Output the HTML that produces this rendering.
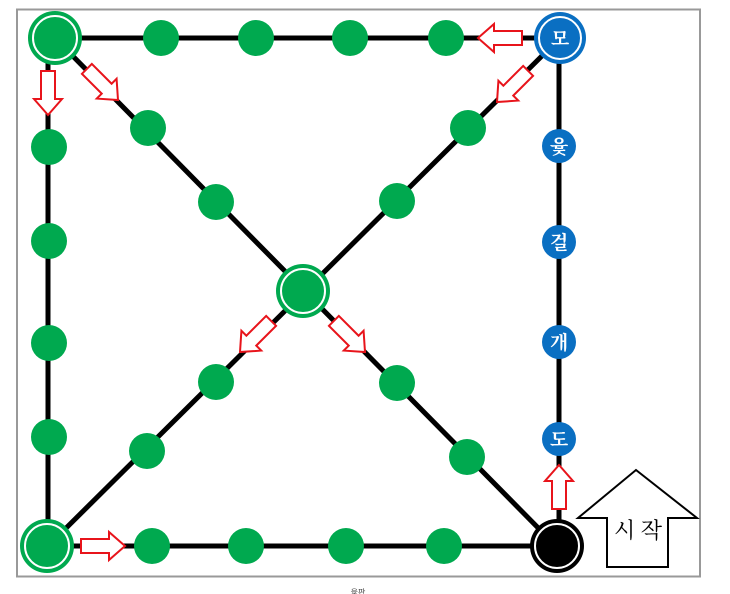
<!DOCTYPE html>
<html><head><meta charset="utf-8"><style>
html,body{margin:0;padding:0;background:#fff;width:730px;height:594px;overflow:hidden}
svg{display:block}
</style></head><body>
<svg width="730" height="594" viewBox="0 0 730 594" xmlns="http://www.w3.org/2000/svg">
<defs>
<path id="ar" d="M-16,-7 L-44,-7 L-44,7 L-16,7 L-16,14 L0,0 L-16,-14 Z" fill="#fff" stroke="#e8141b" stroke-width="2"/>
</defs>
<rect x="17" y="9.5" width="683" height="567" fill="#fff" stroke="#999" stroke-width="2"/>
<g stroke="#000" stroke-width="5">
<line x1="55" y1="38" x2="560" y2="38"/>
<line x1="48" y1="38" x2="48" y2="546"/>
<line x1="559" y1="38" x2="559" y2="546"/>
<line x1="48" y1="546" x2="556" y2="546"/>
<line x1="55" y1="38" x2="556" y2="546"/>
<line x1="560" y1="38" x2="48" y2="546"/>
</g>
<g fill="#00a94f">
<circle cx="161" cy="38" r="18"/><circle cx="256" cy="38" r="18"/><circle cx="350" cy="38" r="18"/><circle cx="446" cy="38" r="18"/>
<circle cx="49" cy="147" r="18"/><circle cx="49" cy="241" r="18"/><circle cx="49" cy="343" r="18"/><circle cx="49" cy="437" r="18"/>
<circle cx="152" cy="546" r="18"/><circle cx="246" cy="546" r="18"/><circle cx="346" cy="546" r="18"/><circle cx="444" cy="546" r="18"/>
<circle cx="148" cy="128" r="18"/><circle cx="216" cy="202" r="18"/>
<circle cx="468" cy="128" r="18"/><circle cx="397" cy="201" r="18"/>
<circle cx="216" cy="382" r="18"/><circle cx="147" cy="451" r="18"/>
<circle cx="397" cy="383" r="18"/><circle cx="467" cy="457" r="18"/>
</g>
<g>
<circle cx="55" cy="38" r="27" fill="#00a94f"/><circle cx="55" cy="38" r="22" fill="none" stroke="#fff" stroke-width="2"/>
<circle cx="47" cy="546" r="27" fill="#00a94f"/><circle cx="47" cy="546" r="22" fill="none" stroke="#fff" stroke-width="2"/>
<circle cx="303" cy="291" r="27" fill="#00a94f"/><circle cx="303" cy="291" r="22" fill="none" stroke="#fff" stroke-width="2"/>
<circle cx="557" cy="546" r="27" fill="#000"/><circle cx="557" cy="546" r="22" fill="none" stroke="#fff" stroke-width="2"/>
<circle cx="560" cy="38" r="26" fill="#0a6fc2"/><circle cx="560" cy="38" r="21" fill="none" stroke="#fff" stroke-width="2"/>
</g>
<g fill="#0a6fc2">
<circle cx="559" cy="146" r="17"/><circle cx="559" cy="242" r="17"/><circle cx="559" cy="342" r="17"/><circle cx="559" cy="439" r="17"/>
</g>
<g fill="#fff" font-family="'Liberation Serif','Noto Serif CJK SC',serif" font-size="19" font-weight="bold" text-anchor="middle">
<text x="560" y="45">모</text>
<text x="559" y="153">윷</text>
<text x="559" y="249">걸</text>
<text x="559" y="349">개</text>
<text x="559" y="446">도</text>
</g>
<use href="#ar" transform="translate(478,38) rotate(180)"/>
<use href="#ar" transform="translate(48,115) rotate(90)"/>
<use href="#ar" transform="translate(118,100) rotate(45)"/>
<use href="#ar" transform="translate(497,102) rotate(135)"/>
<use href="#ar" transform="translate(240,352) rotate(135)"/>
<use href="#ar" transform="translate(365,352) rotate(45)"/>
<use href="#ar" transform="translate(125,546)"/>
<use href="#ar" transform="translate(559,465) rotate(-90)"/>
<path d="M636,470 L697,518 L668,518 L668,567 L607,567 L607,518 L578,518 Z" fill="#fff" stroke="#000" stroke-width="2"/>
<text x="638" y="538" font-family="'Liberation Serif','Noto Serif CJK SC',serif" font-size="22" text-anchor="middle" fill="#000">시 작</text>
<text x="358" y="595" font-family="'Liberation Sans','Noto Sans CJK KR',sans-serif" font-size="8" text-anchor="middle" fill="#444">윷판</text>
</svg>
</body></html>
